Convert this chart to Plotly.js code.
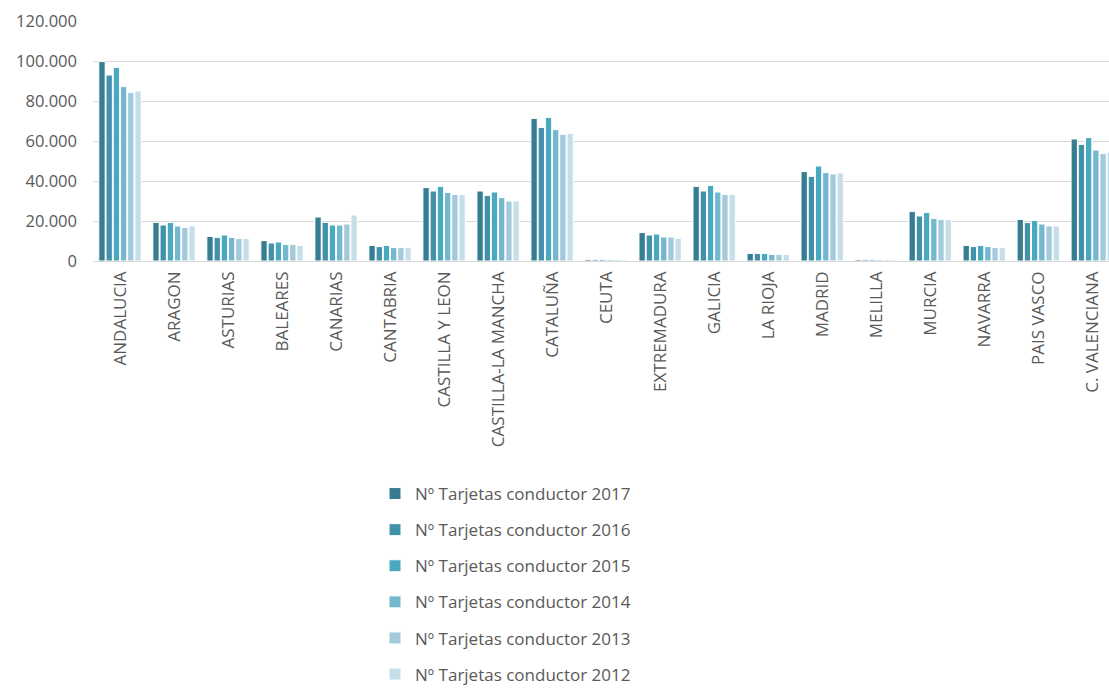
<!DOCTYPE html>
<html><head><meta charset="utf-8">
<script src="https://cdn.plot.ly/plotly-3.0.1.min.js"></script>
<style>html,body{margin:0;padding:0;background:#fff}#chart{width:1109px;height:688px}</style>
</head><body><div id="chart"></div>
<script>
const categories = ["ANDALUCIA","ARAGON","ASTURIAS","BALEARES","CANARIAS","CANTABRIA","CASTILLA Y LEON","CASTILLA-LA MANCHA","CATALUÑA","CEUTA","EXTREMADURA","GALICIA","LA RIOJA","MADRID","MELILLA","MURCIA","NAVARRA","PAIS VASCO","C. VALENCIANA"];
const seriesNames = ["Nº Tarjetas conductor 2017","Nº Tarjetas conductor 2016","Nº Tarjetas conductor 2015","Nº Tarjetas conductor 2014","Nº Tarjetas conductor 2013","Nº Tarjetas conductor 2012"];
const v2017 = [99700,19300,12300,10200,22000,7800,36700,35000,71300,800,14200,37300,3800,44700,700,24800,7800,20800,61000];
const v2016 = [93000,18000,11800,9000,19300,7200,35000,32800,66800,800,13000,35000,3800,42300,700,22500,7200,19200,58300];
const v2015 = [96800,19300,13000,9500,18000,7800,37300,34500,71800,800,13500,37800,3800,47500,700,24200,7800,20300,61700];
const v2014 = [87200,17500,11800,8300,18000,6700,34300,31700,65700,700,12000,34500,3300,44200,600,21300,7200,18500,55500];
const v2013 = [84300,16800,11200,8300,18500,6700,33300,30000,63300,700,12000,33300,3300,43500,600,20800,6700,17500,53800];
const v2012 = [85000,17500,11200,7800,23000,6700,33300,30000,63800,600,11300,33300,3300,44000,600,20800,6700,17500,54500];
const yTicks = [0,20000,40000,60000,80000,100000,120000];

const allValues = [v2017,v2016,v2015,v2014,v2013,v2012];
const colors = ["#367d91","#4291aa","#4aa8c1","#75b8ce","#a3cadb","#c5dfe8"];

const traces = allValues.map((vals,i)=>({
  type:"bar", name:seriesNames[i], x:categories, y:vals,
  marker:{color:colors[i], line:{color:"#ffffff", width:1}},
  legendgroup:"g"+i, hoverinfo:"x+y+name"
}));

const layout = {
  width:1109, height:688,
  margin:{l:93, r:0, t:21, b:427, autoexpand:false},
  paper_bgcolor:"#ffffff", plot_bgcolor:"#ffffff",
  separators:",.",
  font:{family:"Open Sans, sans-serif", color:"#595959"},
  barmode:"group", bargap:0.2, bargroupgap:0.12,
  xaxis:{type:"category", range:[-0.5,18.31], tickangle:-90, showgrid:false, zeroline:false,
    showline:false, ticks:"", tickfont:{size:17, color:"#595959"}, ticklabelstandoff:6, automargin:false},
  yaxis:{range:[0,120000], tickvals:yTicks, tickformat:",d", showgrid:true, gridcolor:"#d9d9d9",
    gridwidth:1, zeroline:true, zerolinecolor:"#d9d9d9", zerolinewidth:1, ticks:"", showline:false,
    tickfont:{size:16.5, color:"#595959"}, ticklabelstandoff:15, automargin:false},
  showlegend:true,
  legend:{orientation:"v", xref:"container", yref:"container", x:375/1109, xanchor:"left",
    y:1-476/688, yanchor:"top", traceorder:"grouped", tracegroupgap:11,
    font:{size:17, color:"#595959"}, itemwidth:30, bgcolor:"rgba(0,0,0,0)"}
};
Plotly.newPlot("chart", traces, layout, {displayModeBar:false, staticPlot:true});
</script></body></html>
